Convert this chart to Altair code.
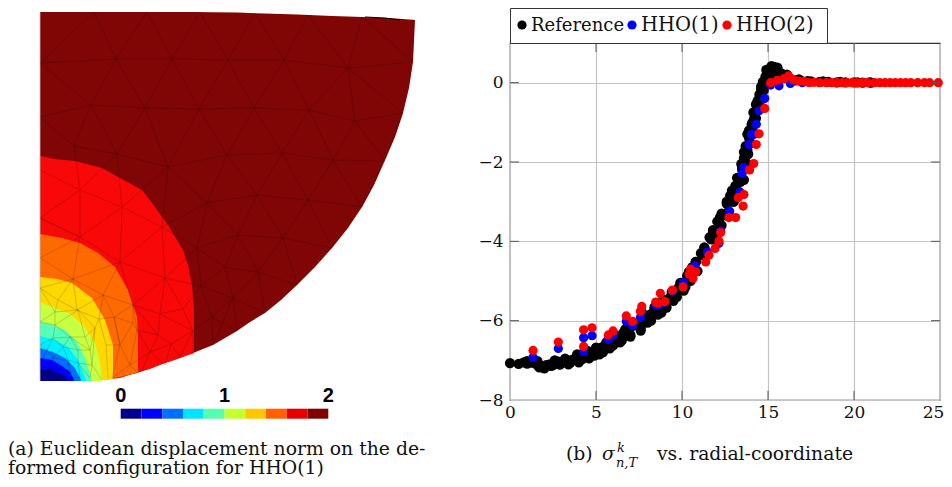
import altair as alt
import pandas as pd

SERIF = "DejaVu Serif"
OX, OY = 510, 43  # page position of the right plot's origin (after the 8px margin and padding)

# ---------- right panel data (radial coordinate, sigma) ----------
ref_x = [0,0.5,0.8,1,1.3,1.5,1.8,1.9,2.1,2.3,2.5,2.8,3.1,3.3,3.6,3.8,4.1,4.3,4.6,4.8,5.1,5.3,5.5,5.8,6.1,6.3,6.6,6.8,7.1,7.3,7.5,7.8,8.1,8.3,8.5,8.8,9.0,9.3,9.6,9.8,10.0,10.3,10.6,10.8,11.1,11.3,11.6,11.8,12.05,12.3,12.6,12.8,13.1,13.3,13.5,13.7,13.85,13.95,14.0,14.1,14.15,14.3,14.5,14.6,14.7,14.85,15.0,15.2,15.35,15.5,15.75,16,16.3,16.6,17,17.5,18,18.5,19,19.5,20,20.5,21,
         11.2,11.7,12.2,12.6,13.0,13.3,13.6,13.75,13.8,13.9,14.1,14.3,14.4,14.9,15.1,15.4,10.2,9.5,8.8,8.2,7.6,7.0,6.4,5.8,5.2,4.6,4.0,3.4,
         1.7,2.0,2.4,2.9,3.5,4.2,4.9,5.4,6.0,6.5,7.0,7.6,8.0,8.6,9.1,9.7,10.1,10.5,10.9,11.4,11.9,12.3,12.7,13.0,13.2,13.4,13.5,13.6,13.7,13.8,14.2,14.35,14.5,14.75,15.0,15.3,15.6,
         1.0,1.6,2.6,3.2,3.9,4.5,5.0,5.6,6.2,6.7,7.2,7.8,8.4,8.9,9.4,9.9,10.4,10.8,11.3,11.8,12.2,12.6,12.9,13.2,13.45,13.6,13.9,14.05,14.25,14.4,14.6,14.95,15.2,15.55,16.1,16.8,17.3,18.2,19.2,20.2,20.9]
ref_y = [-7.07,-7.09,-7.05,-7.08,-7.06,-7.09,-7.15,-7.18,-7.12,-7.1,-7.12,-7.03,-7.05,-7.0,-6.99,-6.95,-6.93,-6.88,-6.85,-6.8,-6.72,-6.68,-6.63,-6.55,-6.46,-6.4,-6.3,-6.25,-6.14,-6.1,-6.04,-5.95,-5.86,-5.8,-5.72,-5.6,-5.52,-5.42,-5.26,-5.17,-5.05,-4.87,-4.65,-4.52,-4.3,-4.15,-3.9,-3.72,-3.5,-3.3,-3.05,-2.85,-2.6,-2.4,-2.2,-2.0,-1.8,-1.5,-1.25,-1.0,-0.75,-0.55,-0.3,-0.1,0.02,0.15,0.25,0.42,0.4,0.32,0.24,0.18,0.1,0.06,0.03,0.03,0.02,0.02,0.01,0.01,0.01,0.0,0.0,
         -4.35,-3.95,-3.65,-3.35,-3.0,-2.75,-2.45,-2.15,-1.7,-1.2,-1.2,-0.9,-0.5,0.32,0.1,0.1,-5.15,-5.5,-5.8,-6.0,-6.25,-6.4,-6.55,-6.7,-6.85,-6.95,-7.05,-7.1,
         -7.18,-7.2,-7.14,-7.11,-7.06,-6.97,-6.88,-6.8,-6.62,-6.5,-6.36,-6.18,-6.05,-5.85,-5.67,-5.4,-5.24,-5.0,-4.75,-4.35,-3.95,-3.6,-3.25,-3.0,-2.75,-2.5,-2.15,-1.9,-1.6,-1.3,-0.9,-0.7,-0.5,-0.2,0.05,0.3,0.22,
         -7.02,-7.02,-7.0,-6.96,-6.85,-6.76,-6.68,-6.55,-6.38,-6.22,-6.05,-5.85,-5.66,-5.47,-5.28,-5.05,-4.77,-4.52,-4.18,-3.78,-3.4,-3.0,-2.72,-2.4,-2.05,-1.75,-1.4,-1.05,-0.75,-0.45,-0.18,0.18,0.35,0.38,0.2,0.08,0.04,0.03,0.02,0.01,0.01]

hho1_x = [1.34,2.81,4.28,4.28,4.77,5.72,5.99,6.76,7.13,7.58,7.66,8.47,8.6,8.95,9.44,10.08,10.76,11.47,12.15,12.25,12.77,13.37,13.5,13.6,13.93,13.9,14.05,14.15,14.32,14.48,14.81,15.15,15.64,16.3,17.0]
hho1_y = [-6.92,-6.7,-6.78,-6.43,-6.38,-6.47,-6.37,-6.02,-6.12,-5.92,-5.75,-5.6,-5.62,-5.54,-5.25,-5.04,-4.62,-4.27,-4.05,-3.74,-3.24,-2.76,-2.29,-2.14,-1.56,-1.56,-1.3,-1.31,-1.05,-0.71,-0.40,-0.06,-0.08,-0.02,0.0]

hho2_x = [1.34,2.81,4.28,4.28,4.77,5.72,5.99,6.76,7.13,7.58,7.66,8.47,8.6,8.74,9.01,9.44,10.06,10.41,10.64,10.8,10.5,11.38,11.57,11.92,12.15,12.25,12.73,13.12,13.27,13.6,13.55,13.93,14.17,14.32,14.48,14.81,15.15,15.54,15.93,16.2,16.5,16.8,17.1,17.4,17.7,18.0,18.4,18.7,19.0,19.3,19.6,19.9,20.2,20.5,20.8,21.2,21.5,21.8,22.1,22.4,22.7,23.0,23.3,23.7,24.1,24.4,24.9]
hho2_y = [-6.75,-6.54,-6.65,-6.23,-6.18,-6.36,-6.26,-5.88,-6.02,-5.76,-5.64,-5.53,-5.56,-5.31,-5.52,-5.23,-5.15,-4.83,-4.93,-4.77,-4.7,-4.52,-4.35,-4.18,-3.99,-3.78,-3.4,-3.4,-2.9,-2.82,-3.11,-2.2,-2.04,-1.56,-1.29,-0.65,0.0,0.06,0.1,0.17,0.07,0.04,0.03,0.0,0.01,0.0,0.0,0.0,0.0,0.0,0.0,0.0,0.0,0.0,0.0,0.0,0.0,0.0,0.0,0.0,0.0,0.0,0.0,0.0,0.0,0.0,0.0]

x_ticks = [0,5,10,15,20,25]
y_ticks = [-8,-6,-4,-2,0]
legend_labels = ["Reference","HHO(1)","HHO(2)"]
legend_sizes = [18,19.5,19.5]
series_colors = ["#000000","#0000ff","#ff0000"]

# ---------- left panel data (mesh coordinates) ----------
outer_x =   [40,103,137,193,213,237,250,265,281,297,315,332,348,362,374,385,395,403,409,413,415]
outer_top = [12,12,12,12,12.2,12.5,13,13.5,14,14.5,15.3,16,16.5,17,17.5,18,18.5,19,19.4,19.7,20]
outer_bot = [381,380,373,353,345,331,322,313,300,285,267,248,228,207,185,160,137,113,88,62,20]

regions = [
 ("#f90808",[40,55,75,102,120,142,150,162,168,183,188,192,194],
            [156,159,161,168,178,190,200,217,225,250,265,285,310],
            [381,381,380.5,380,378,371,369,364,362,357,355,354,353]),
 ("#ff6a00",[40,62,80,98,115,128,137,138],[234,238,243,253,267,290,317,337],[381,381,380.5,380,378,375,373,372.5]),
 ("#ffd800",[40,57,72,92,105,113],[277,279,283,298,320,345],[381,381,381,380.5,380,379]),
 ("#c8ff40",[40,55,70,83,95,100,102],[302,308,314,325,343,362,380],[381,381,381,381,381,381,381]),
 ("#55ffb8",[40,53,65,77,85,92],[322,325,330,342,358,380],[381,381,381,381,381,381]),
 ("#00f0ff",[40,55,68,78,86],[336,340,347,360,380],[381,381,381,381,381]),
 ("#0070ff",[40,53,65,75,81],[348,352,358,368,380],[381,381,381,381,381]),
 ("#0000ff",[40,52,62,70,74],[358,360,366,372,380],[381,381,381,381,381]),
 ("#00008b",[40,52,63,68],[369,370,375,380],[381,381,381,381]),
]

mesh_chains = [
 [(40,63),(116,59),(172,59),(228,60),(284,60),(348,68),(413,62)],
 [(40,63),(94,12),(116,59),(147,12),(172,59),(200,12),(228,60),(255,13),(284,60),(308,15),(348,68),(362,17),(413,62)],
 [(40,117),(91,105),(145,108),(199,109),(254,108),(309,110),(355,121),(403,113)],
 [(40,63),(91,105),(116,59),(145,108),(172,59),(199,109),(228,60),(254,108),(284,60),(309,110),(348,68),(355,121)],
 [(348,68),(403,113)],
 [(40,117),(74,146),(91,105),(117,154),(145,108),(168,167),(199,109),(227,155),(254,108),(282,153),(309,110),(333,160),(355,121),(385,161),(403,113)],
 [(74,146),(117,154),(168,167),(227,155),(282,153),(333,160),(385,161)],
 [(40,170),(80,190),(74,146)],[(80,190),(117,154),(122,207),(142,190),(168,167),(162,227)],
 [(40,218),(80,190),(122,207),(80,237),(40,218)],[(80,190),(80,237)],
 [(168,167),(207,203),(227,155),(257,195),(282,153),(308,200),(333,160),(362,207),(385,161)],
 [(207,203),(257,195),(308,200),(362,207)],
 [(122,207),(162,227),(207,203),(197,248),(162,227)],[(207,203),(238,235),(197,248)],
 [(257,195),(238,235)],[(257,195),(283,238),(308,200),(332,248),(283,238)],
 [(238,235),(283,238),(297,285)],[(283,238),(258,272),(297,285)],
 [(238,235),(258,272),(265,313)],[(238,235),(225,267),(258,272),(233,298),(265,313)],
 [(225,267),(233,298),(237,330)],[(233,298),(213,345)],[(233,298),(212,317)],
 [(197,248),(225,267),(201,286),(233,298)],[(197,248),(201,286),(212,317),(237,331)],[(212,317),(213,345)],
 [(197,248),(165,278),(162,227),(120,262),(165,278)],[(122,207),(120,262)],
 [(165,278),(201,286),(183,309),(165,278),(160,314),(183,309),(193,331),(212,317)],
 [(120,262),(133,305),(165,278)],[(133,305),(160,314),(158,335),(133,305),(137,330),(158,335),(171,344),(193,331),(160,314)],
 [(193,331),(193,353)],[(158,335),(150,352),(137,330)],[(150,352),(130,365),(137,330)],
 [(150,352),(142,371)],[(150,352),(165,365),(171,344),(150,352)],[(171,344),(180,357),(193,331)],[(180,357),(165,365)],
 [(40,218),(80,237),(120,262),(73,279),(80,237),(40,258),(73,279),(40,288),(58,300),(73,279),(103,295),(120,262)],
 [(58,300),(77,310),(73,279)],[(77,310),(103,295),(99,319),(77,310)],[(103,295),(114,317),(99,319)],
 [(103,295),(133,305),(114,317),(133,323),(133,305)],[(114,317),(120,345),(133,323),(137,330)],
 [(99,319),(106,345),(120,345),(114,317)],[(106,345),(108,378)],[(120,345),(112,378),(130,365),(120,345)],[(130,365),(137,373)],
 [(40,288),(55,312),(58,300)],[(55,312),(78,310),(77,310)],[(78,310),(95,328),(99,319)],[(95,328),(85,337),(78,310)],
 [(55,312),(40,322),(55,325),(55,312)],[(55,325),(78,310)],[(55,325),(70,337),(85,337),(90,350),(70,337)],
 [(95,328),(92,365),(90,350),(95,328)],[(92,365),(102,380)],[(92,365),(90,378),(78,363),(92,365)],
 [(90,350),(78,350),(70,337),(63,347),(78,350),(78,363)],[(78,363),(80,378),(72,378),(68,360),(78,363)],
 [(70,337),(53,338),(63,347),(53,358),(68,360),(63,347)],[(53,338),(55,325)],[(53,338),(40,345),(47,350),(53,338)],
 [(47,350),(53,358),(48,368),(40,365),(47,350)],[(53,358),(58,370),(48,368)],[(58,370),(68,370),(68,360)],[(68,370),(72,378)],
 [(58,370),(60,380),(50,380),(48,368),(42,380)],[(68,370),(60,380)],
]
hole_edge = [(365,17),(385,18),(400,20)]

bar_edges = [0,0.2,0.4,0.6,0.8,1.0,1.2,1.4,1.6,1.8,2.0]
bar_colors = ["#000090","#0000ff","#0070ff","#00e4ff","#55ffb0","#c4ff30","#ffc800","#ff6000","#e80000","#800000"]
bar_labels = [0,1,2]

# ---------- scales ----------
mx_scale = alt.Scale(domain=[40,415], range=[40-OX,415-OX])
my_scale = alt.Scale(domain=[12,381], range=[12-OY,381-OY])
bar_scale = alt.Scale(domain=[0,2], range=[120.7-OX,328.3-OX])
rx_scale = alt.Scale(domain=[0,25], nice=False, zero=False)
ry_scale = alt.Scale(domain=[-8,1], nice=False, zero=False)

mx = alt.X("x:Q", scale=mx_scale, axis=None)
my = alt.Y("y:Q", scale=my_scale, axis=None)
my2 = alt.Y2("y2:Q")

layers = []

# left mesh fills
layers.append(alt.Chart(pd.DataFrame({"x":outer_x,"y":outer_top,"y2":outer_bot}))
    .mark_area(color="#800505", opacity=1).encode(x=mx, y=my, y2=my2))
for col, xs, tops, bots in regions:
    layers.append(alt.Chart(pd.DataFrame({"x":xs,"y":tops,"y2":bots}))
        .mark_area(color=col, opacity=1).encode(x=mx, y=my, y2=my2))

# mesh lines
rows = []
for cid, chain in enumerate(mesh_chains):
    for i, (a, b) in enumerate(chain):
        rows.append({"c":cid,"i":i,"x":a,"y":b})
layers.append(alt.Chart(pd.DataFrame(rows)).mark_line(color="#000000", opacity=0.17, strokeWidth=1)
    .encode(x=mx, y=my, detail="c:N", order="i:Q"))
layers.append(alt.Chart(pd.DataFrame({"x":[p[0] for p in hole_edge],"y":[p[1] for p in hole_edge],"i":[0,1,2]}))
    .mark_line(color="#000000", strokeWidth=1.2).encode(x=mx, y=my, order="i:Q"))
layers.append(alt.Chart(pd.DataFrame({"x":[40,40],"y":[12,381],"i":[0,1]}))
    .mark_line(color="#c9b8b8", strokeWidth=0.8).encode(x=mx, y=my, order="i:Q"))

# colour bar
bar_df = pd.DataFrame({"a":bar_edges[:-1],"b":bar_edges[1:],"c":bar_colors})
layers.append(alt.Chart(bar_df).mark_rect().encode(
    x=alt.X("a:Q", scale=bar_scale, axis=None), x2="b:Q",
    y=alt.value(408.7-OY), y2=alt.value(418.7-OY),
    color=alt.Color("c:N", scale=None, legend=None)))
layers.append(alt.Chart(pd.DataFrame({"v":bar_labels})).mark_text(
    font="Liberation Sans", fontWeight="bold", fontSize=20, baseline="alphabetic", color="#000000").encode(
    x=alt.X("v:Q", scale=bar_scale, axis=None), y=alt.value(402-OY), text="v:N"))

# right plot
axis_x = alt.Axis(values=x_ticks, grid=True, gridColor="#c4c4c4", gridWidth=1.2, domain=False, ticks=False,
                  labelFont=SERIF, labelFontSize=17, labelColor="#111111", labelPadding=4, title=None, labelFlush=False,
                  labelOverlap=False, labelBound=False, labelOffset={"expr":"datum.value==25 ? -7 : 0"})
axis_y = alt.Axis(values=y_ticks, grid=True, gridColor="#c4c4c4", gridWidth=1.2, domain=False, ticks=False,
                  labelFont=SERIF, labelFontSize=17, labelColor="#111111", labelPadding=7, title=None, labelFlush=False,
                  labelOverlap=False, labelBound=False)
ref_df = pd.DataFrame({"x":ref_x,"y":ref_y})
layers.append(alt.Chart(ref_df).mark_point(filled=True, size=105, color=series_colors[0], opacity=1).encode(
    x=alt.X("x:Q", scale=rx_scale, axis=axis_x), y=alt.Y("y:Q", scale=ry_scale, axis=axis_y)))
rx = alt.X("x:Q", scale=rx_scale, axis=None)
ry = alt.Y("y:Q", scale=ry_scale, axis=None)
layers.append(alt.Chart(pd.DataFrame({"x":hho1_x,"y":hho1_y})).mark_point(filled=True, size=85, color=series_colors[1], opacity=1).encode(x=rx, y=ry))
layers.append(alt.Chart(pd.DataFrame({"x":hho2_x,"y":hho2_y})).mark_point(filled=True, size=85, color=series_colors[2], opacity=1).encode(x=rx, y=ry))

# inward ticks
tick_dark = "#555555"
for y0, y1 in [(-8,-7.77),(1,0.77)]:
    layers.append(alt.Chart(pd.DataFrame({"x":x_ticks[1:-1],"y":[y0]*4,"y2":[y1]*4})).mark_rule(color=tick_dark, strokeWidth=1)
        .encode(x=rx, y=ry, y2="y2:Q"))
for x0, x1 in [(0,0.52),(25,24.48)]:
    layers.append(alt.Chart(pd.DataFrame({"x":[x0]*4,"x2":[x1]*4,"y":y_ticks[1:]})).mark_rule(color=tick_dark, strokeWidth=1)
        .encode(x=rx, x2="x2:Q", y=ry))

# legend box
layers.append(alt.Chart(pd.DataFrame({"k":[0]})).mark_rect(fill="#ffffff", stroke="#333333", strokeWidth=1).encode(
    x=alt.value(0.5), x2=alt.value(827.5-OX), y=alt.value(8.5-OY), y2=alt.value(0.5)))
def txt(s, x, y, size=18.8, style="normal", align="left", font=SERIF):
    return alt.Chart(pd.DataFrame({"t":[s]})).mark_text(font=font, fontSize=size, fontStyle=style, align=align,
        baseline="alphabetic", color="#111111").encode(text="t:N", x=alt.value(x-OX), y=alt.value(y-OY))
for lab, col, mx_, tx_, sz in zip(legend_labels, series_colors, [522,632,727], [531,641,736], legend_sizes):
    layers.append(alt.Chart(pd.DataFrame({"k":[0]})).mark_point(filled=True, size=85, color=col, opacity=1).encode(
        x=alt.value(mx_-OX), y=alt.value(25-OY)))
    layers.append(txt(lab, tx_, 31, sz))

# captions
layers.append(txt("(a) Euclidean displacement norm on the de-", 8, 455))
layers.append(txt("formed configuration for HHO(1)", 8, 474))
layers.append(txt("(b)", 566, 460))
layers.append(txt("σ", 602, 460, 18.8, "italic"))
layers.append(txt("k", 617, 452, 13, "italic"))
layers.append(txt("n,T", 616, 467, 13, "italic"))
layers.append(txt("vs. radial-coordinate", 657, 460))

chart = alt.layer(*layers).resolve_scale(x="independent", y="independent", color="independent").properties(
    width=430, height=357,
    padding={"left":OX-8,"top":OY-8,"right":4,"bottom":79},
    autosize=alt.AutoSizeParams(type="none"),
).configure_view(stroke="#333333", strokeWidth=1.2)

chart.save("out.html", embed_options={"renderer":"svg","actions":False})
